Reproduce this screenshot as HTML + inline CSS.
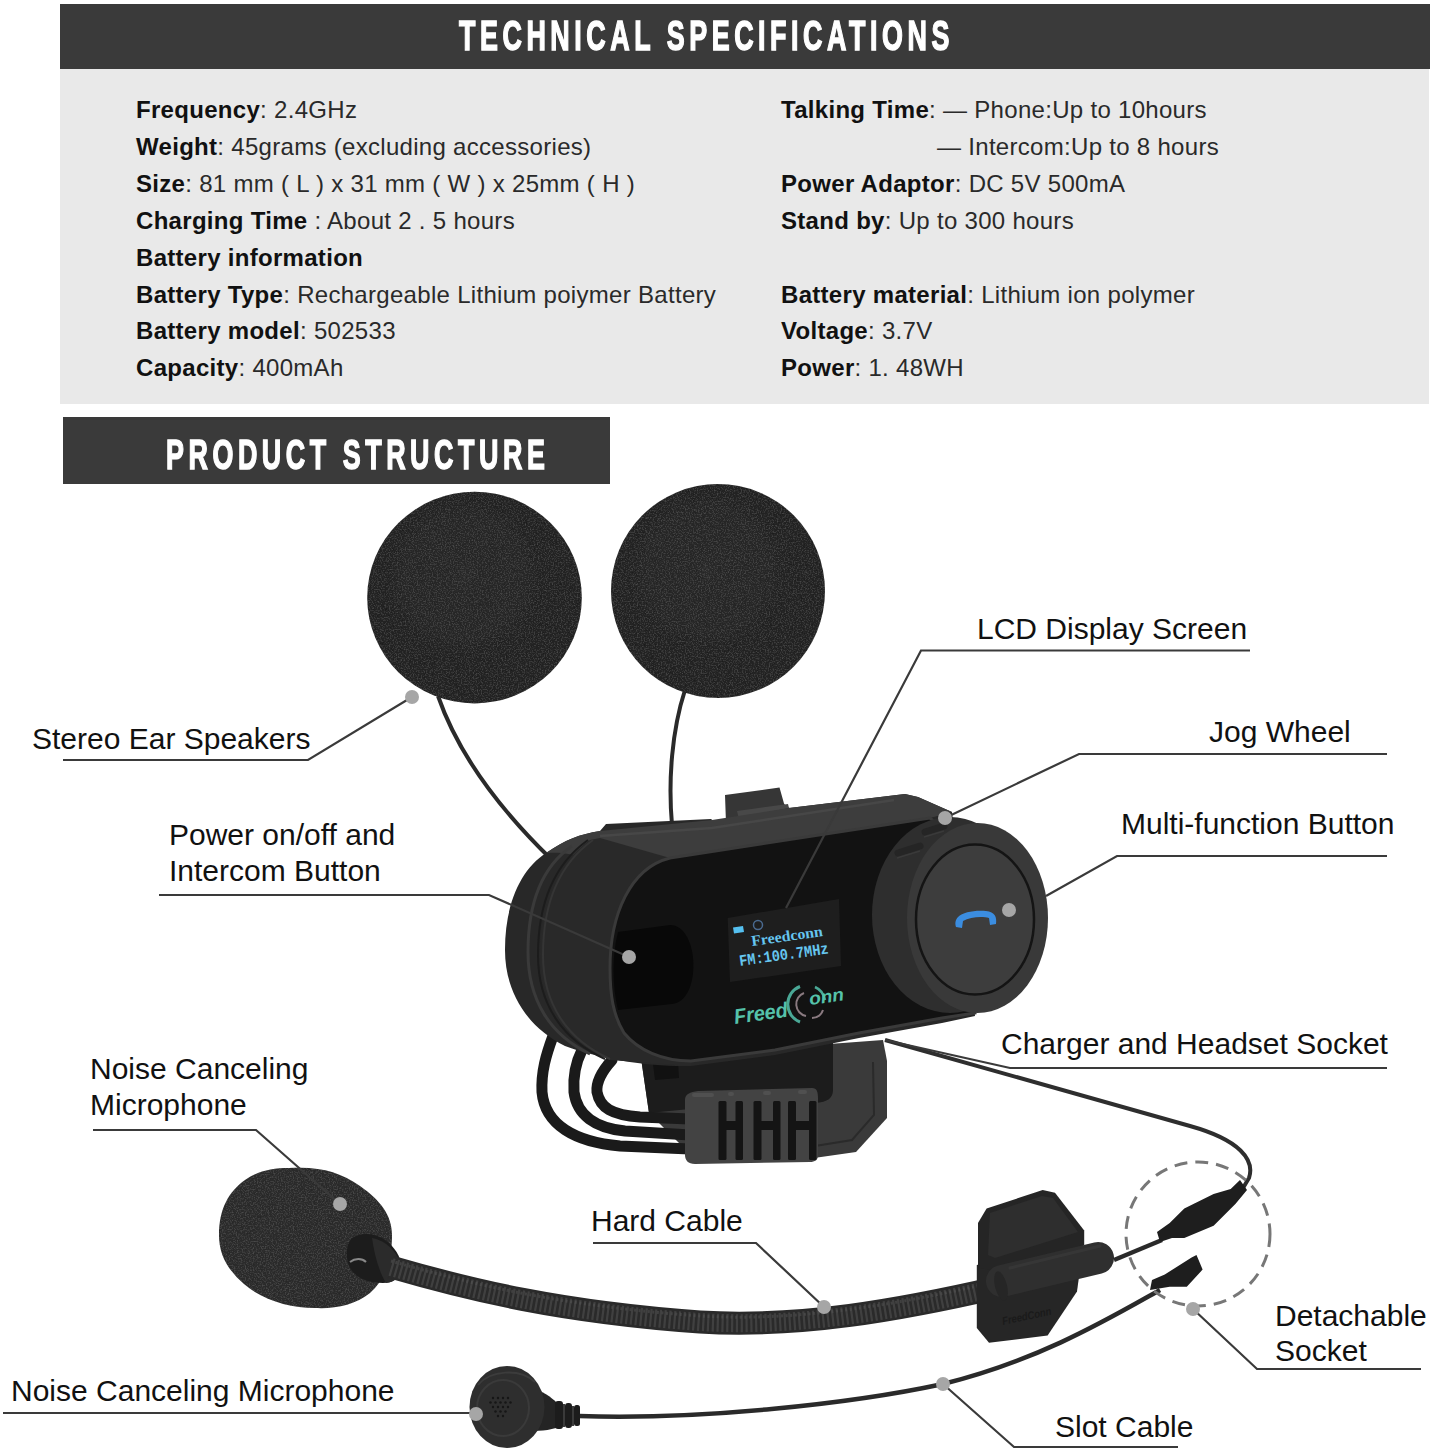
<!DOCTYPE html>
<html><head><meta charset="utf-8">
<style>
html,body{margin:0;padding:0;background:#fff;}
body{width:1434px;height:1452px;position:relative;overflow:hidden;font-family:"Liberation Sans",sans-serif;}
.bar{position:absolute;background:#3a3a3a;}
.gray{position:absolute;background:#e9e9e9;}
.hd{position:absolute;color:#fff;font-weight:bold;white-space:nowrap;transform-origin:0 0;line-height:1;transform:scaleX(0.64);letter-spacing:7.1px;-webkit-text-stroke:1.5px #fff;}
.sp{position:absolute;font-size:24px;line-height:30px;letter-spacing:0.3px;color:#2a2a2a;white-space:nowrap;}
.sp b{color:#111;}
.lb{position:absolute;font-size:30px;line-height:36px;color:#111;white-space:nowrap;}
svg{position:absolute;left:0;top:0;}
</style></head><body>
<div class="bar" style="left:60px;top:4px;width:1370px;height:65px"></div>
<div class="gray" style="left:60px;top:69px;width:1369px;height:335px"></div>
<div class="bar" style="left:63px;top:417px;width:547px;height:67px"></div>
<div class="hd" id="h1" style="left:459px;top:15px;font-size:42px;">TECHNICAL SPECIFICATIONS</div>
<div class="hd" id="h2" style="left:166px;top:434px;font-size:42px;">PRODUCT STRUCTURE</div>

<div id="specs">
<div class="sp" style="left:136px;top:95px"><b>Frequency</b>: 2.4GHz</div>
<div class="sp" style="left:136px;top:132px"><b>Weight</b>: 45grams (excluding accessories)</div>
<div class="sp" style="left:136px;top:169px"><b>Size</b>: 81 mm ( L ) x 31 mm ( W ) x 25mm ( H )</div>
<div class="sp" style="left:136px;top:206px"><b>Charging Time</b> : About 2 . 5 hours</div>
<div class="sp" style="left:136px;top:243px"><b>Battery information</b></div>
<div class="sp" style="left:136px;top:280px"><b>Battery Type</b>: Rechargeable Lithium poiymer Battery</div>
<div class="sp" style="left:136px;top:316px"><b>Battery model</b>: 502533</div>
<div class="sp" style="left:136px;top:353px"><b>Capacity</b>: 400mAh</div>
<div class="sp" style="left:781px;top:95px"><b>Talking Time</b>: — Phone:Up to 10hours</div>
<div class="sp" style="left:937px;top:132px">— Intercom:Up to 8 hours</div>
<div class="sp" style="left:781px;top:169px"><b>Power Adaptor</b>: DC 5V 500mA</div>
<div class="sp" style="left:781px;top:206px"><b>Stand by</b>: Up to 300 hours</div>
<div class="sp" style="left:781px;top:280px"><b>Battery material</b>: Lithium ion polymer</div>
<div class="sp" style="left:781px;top:316px"><b>Voltage</b>: 3.7V</div>
<div class="sp" style="left:781px;top:353px"><b>Power</b>: 1. 48WH</div>
</div>

<svg id="art" width="1434" height="1452" viewBox="0 0 1434 1452">
<defs>
<filter id="foam" x="0" y="0" width="100%" height="100%"><feTurbulence type="fractalNoise" baseFrequency="0.75" numOctaves="3" seed="3" result="n"/><feColorMatrix in="n" type="matrix" values="0 0 0 0 0.26  0 0 0 0 0.26  0 0 0 0 0.26  0 0 0 0.5 -0.22" result="g"/><feComposite in="g" in2="SourceGraphic" operator="in" result="t"/><feMerge><feMergeNode in="SourceGraphic"/><feMergeNode in="t"/></feMerge></filter>
<radialGradient id="spk" cx="0.45" cy="0.4" r="0.65"><stop offset="0" stop-color="#292929"/><stop offset="1" stop-color="#202020"/></radialGradient>
<linearGradient id="shell" x1="0" y1="0" x2="0" y2="1"><stop offset="0" stop-color="#3a3a3a"/><stop offset="0.5" stop-color="#2a2a2a"/><stop offset="1" stop-color="#262626"/></linearGradient>
</defs>
<!-- speaker cables -->
<path d="M438,696 C455,745 490,800 552,860" fill="none" stroke="#2a2a2a" stroke-width="4"/>
<path d="M685,690 C672,730 668,780 672,825" fill="none" stroke="#2a2a2a" stroke-width="4"/>
<!-- speakers -->
<ellipse cx="474.5" cy="597.6" rx="107.3" ry="105.8" fill="url(#spk)" filter="url(#foam)"/>
<ellipse cx="718" cy="591" rx="107" ry="107" fill="url(#spk)" filter="url(#foam)"/>
<!-- charger cable -->
<path d="M885,1040 L1190,1126 C1240,1140 1255,1160 1249,1178 L1243,1188" fill="none" stroke="#2e2e2e" stroke-width="4"/>
<!-- clip base -->
<polygon points="641,1058 883,1040 887,1061 887,1118 856,1152 814,1158 700,1160 686,1150 649,1113" fill="#3a3a3a"/>
<path d="M641,1058 L833,1042 L833,1090 C833,1098 828,1102 815,1103 L700,1108 L649,1113 Z" fill="#1c1c1c"/>
<polygon points="653,1064 678,1062 679,1078 655,1080" fill="#111"/>
<polyline points="873,1062 874,1115 852,1140 815,1146" fill="none" stroke="#2a2a2a" stroke-width="2"/>
<!-- cable loops -->
<g fill="none" stroke="#1a1a1a" stroke-width="11" stroke-linecap="round">
<path d="M553,1036 C546,1055 541,1072 542,1092 C545,1125 575,1142 620,1146 L690,1149"/>
<path d="M582,1050 C576,1062 573,1078 574,1092 C577,1115 595,1128 625,1131 L690,1135"/>
<path d="M612,1060 C603,1070 596,1082 597,1092 C600,1108 612,1115 640,1117 L690,1119"/>
</g>
<!-- plug -->
<path d="M685,1100 C685,1094 690,1092 698,1091 L812,1088 C817,1088 818,1092 818,1098 L818,1155 C818,1160 815,1162 810,1162 L695,1164 C688,1164 685,1160 685,1155 Z" fill="#434343"/>
<g fill="#141414">
<rect x="718.5" y="1101" width="8" height="59" rx="1.5"/><rect x="735.5" y="1101" width="7.5" height="59" rx="1.5"/><rect x="725.5" y="1121" width="10.5" height="9"/>
<rect x="753.5" y="1101" width="8" height="59" rx="1.5"/><rect x="773" y="1101" width="7.5" height="59" rx="1.5"/><rect x="760.5" y="1121" width="13.0" height="9"/>
<rect x="788" y="1101" width="8" height="59" rx="1.5"/><rect x="809" y="1101" width="7.5" height="59" rx="1.5"/><rect x="795" y="1121" width="14.5" height="9"/>
</g>
<g fill="#505050"><rect x="692" y="1093" width="22" height="4" rx="2"/><rect x="728" y="1092" width="6" height="4" rx="2"/><rect x="763" y="1091" width="8" height="4" rx="2"/><rect x="798" y="1090" width="9" height="4" rx="2"/></g>
<!-- top clip -->
<path d="M725,795 L779.5,787.5 L784,803.5 C786,807 790,808.5 798,810 L790,815 L737,822 L726,823.5 Z" fill="#363636"/><polygon points="737,811 788,804 790,812 739,819" fill="#484848"/>
<!-- device shell -->
<path d="M546,853 C565,840 580,834 600,831 L606,824 L711,819 L716,823 L789,808 L905,794 L918,797 L952,812 L975,1016 L942,1023 L859,1038 L775,1055 L691,1066 C650,1067 600,1059 565,1046 C525,1026 505,990 505,950 C505,905 520,870 546,853 Z" fill="#282828"/>
<!-- top band -->
<path d="M546,853 C565,840 580,834 600,831 L712,820 L789,808 L905,794 L918,797 L952,812 L930,818 L670,858 C640,864 610,866 585,858 C570,853 558,852 546,853 Z" fill="#3d3d3d"/>
<path d="M600,836 L712,828 L894,800" fill="none" stroke="#474747" stroke-width="2.5"/>
<!-- cap -->
<path d="M590,840 C555,865 540,905 540,955 C540,1005 565,1040 610,1060 L691,1066 L691,1061 C662,1061 638,1050 624,1033 C613,1015 610,995 610,968 C610,915 630,868 670,858 L600,838 Z" fill="#292929"/>
<!-- seam on left end -->
<path d="M572,846 C540,868 528,905 528,952 C528,1000 550,1035 590,1054" fill="none" stroke="#3a3a3a" stroke-width="3"/>
<path d="M588,840 C553,865 538,905 538,955 C538,1005 563,1040 605,1059" fill="none" stroke="#1c1c1c" stroke-width="2"/><path d="M593,840 C558,865 543,905 543,955 C543,1005 568,1040 610,1059" fill="none" stroke="#353535" stroke-width="2"/>
<!-- front face -->
<path d="M670,858 L930,818 L960,845 L975,1013 L942,1018 L859,1033 L775,1050 L691,1061 C662,1061 638,1050 624,1033 C613,1015 610,995 610,968 C610,915 630,868 670,858 Z" fill="#121212" stroke="#3a3a3a" stroke-width="3"/>
<!-- slot -->
<path d="M618,932 L670,925 C700,925 702,1002 672,1004 L618,1010 C612,985 612,955 618,932 Z" fill="#080808"/>
<!-- screen -->
<polygon points="727.7,918 839,899 841,966 730,982" fill="#1e1e1e"/>
<g fill="#66c6f0" font-family="Liberation Serif" font-weight="bold">
<text x="752" y="946" font-size="15" transform="rotate(-8 752 946)" textLength="72" lengthAdjust="spacingAndGlyphs">Freedconn</text>
<text x="740" y="966" font-size="16" transform="rotate(-8 740 966)" textLength="90" lengthAdjust="spacingAndGlyphs" font-family="Liberation Mono">FM:100.7MHz</text>
</g>
<polygon points="733,927.5 743,926 744,932 734,933.5" fill="#55c0f0"/>
<circle cx="758" cy="925" r="4.5" fill="none" stroke="#4a6a90" stroke-width="1.5"/>
<!-- logo -->
<text x="735" y="1024" font-size="21" font-weight="bold" font-style="italic" fill="#55c2aa" font-family="Liberation Sans" transform="rotate(-8 735 1024)" textLength="54" lengthAdjust="spacingAndGlyphs">Freed</text>
<path d="M800,986.5 A19,19 0 0,0 800,1022" fill="none" stroke="#4aa896" stroke-width="3"/>
<path d="M815,987 A17,18 0 0,1 825,1000" fill="none" stroke="#4aa896" stroke-width="2.5"/>
<path d="M804,993 A12,12 0 0,0 806,1016" fill="none" stroke="#8a7a80" stroke-width="2"/>
<path d="M812,1018 A12,12 0 0,0 823,1010" fill="none" stroke="#8a7a80" stroke-width="2"/>
<text x="810" y="1005" font-size="18" font-weight="bold" font-style="italic" fill="#55c2aa" font-family="Liberation Sans" transform="rotate(-8 810 1005)" textLength="35" lengthAdjust="spacingAndGlyphs">onn</text>
<!-- jog wheel -->
<ellipse cx="950" cy="915" rx="78" ry="98" fill="#2e2e2e"/>
<g fill="none" stroke="#252525" stroke-width="7" stroke-linecap="round"><path d="M898,853 L920,846"/><path d="M925,832 L944,826"/></g>
<g fill="none" stroke="#3a3a3a" stroke-width="1.5"><path d="M897,858 L920,851"/><path d="M924,837 L944,831"/></g>
<ellipse cx="977.5" cy="918" rx="70.5" ry="95" fill="#393939"/>
<ellipse cx="975" cy="919.5" rx="59" ry="75" fill="#3d3d3d" stroke="#141414" stroke-width="2.5"/>
<path d="M956,927 L962,928 L963,921 C970,917 982,916 989,918 L990,925 L996,924 C997,917 995,912 986,911 C975,910 963,912 958,917 C955,920 955,924 956,927 Z" fill="#3b8de0"/>
<!-- slot cable -->
<path d="M579,1416 C700,1420 850,1404 943,1384 C1040,1360 1110,1318 1160,1290" fill="none" stroke="#2a2a2a" stroke-width="4.5"/>
<!-- mic foam -->
<path d="M289,1168 C320,1166 340,1172 360,1186 C380,1200 392,1215 392,1235 C392,1260 385,1280 370,1293 C355,1305 335,1309 315,1308 C290,1308 262,1300 244,1284 C228,1270 219,1255 219,1235 C219,1210 228,1192 245,1180 C258,1171 272,1168 289,1168 Z" fill="#2a2a2a" filter="url(#foam)"/>
<!-- mic connector -->
<path d="M352,1238 C362,1232 375,1233 385,1240 C395,1247 402,1258 401,1268 C400,1278 393,1283 383,1283 C370,1283 356,1279 350,1268 C345,1258 346,1244 352,1238 Z" fill="#1c1c1c"/><path d="M372,1238 C385,1240 398,1252 401,1266 C401,1276 396,1282 386,1283 C378,1270 374,1252 372,1238 Z" fill="#2b2b2b"/><path d="M350,1262 C355,1258 362,1258 366,1262" stroke="#888" stroke-width="2" fill="none"/>
<!-- gooseneck -->
<path d="M391,1267 C470,1290 560,1312 700,1322 C800,1328 900,1310 1000,1287" fill="none" stroke="#2a2a2a" stroke-width="23"/>
<path d="M391,1267 C470,1290 560,1312 700,1322 C800,1328 900,1310 1000,1287" fill="none" stroke="#505050" stroke-width="18" stroke-dasharray="2.2 2.6" opacity="0.6"/>
<path d="M391,1261 C470,1284 560,1306 700,1316 C800,1322 900,1304 1000,1281" fill="none" stroke="#555" stroke-width="3" stroke-dasharray="2 2.6" opacity="0.5"/>

<!-- boom clip -->
<polygon points="976.8,1265 1084,1240 1077,1291.6 1047.6,1335.5 989,1342.8 976.8,1328" fill="#262626"/>
<polygon points="978,1223 986.6,1208.6 1042.7,1190 1055,1192.7 1084.2,1230.5 1084.2,1245 990,1270 978,1268" fill="#252525"/>
<polygon points="990,1213 1042,1196 1053,1198 1078,1232 995,1258 988,1255" fill="#2e2e2e"/>
<text x="1003" y="1325" font-size="11" font-weight="bold" font-style="italic" fill="#1a1a1a" font-family="Liberation Sans" transform="rotate(-12 1003 1325)" textLength="50" lengthAdjust="spacingAndGlyphs">FreedConn</text>
<path d="M1002,1281 L1098,1258" stroke="#2f2f2f" stroke-width="32" stroke-linecap="round"/>
<path d="M1010,1268 L1100,1246" stroke="#3a3a3a" stroke-width="3" stroke-linecap="round" opacity="0.7"/>
<ellipse cx="1001" cy="1286" rx="6" ry="15" fill="#262626" transform="rotate(-14 1001 1286)"/>
<!-- detachable connectors -->
<path d="M1114,1260 L1162,1240" stroke="#2a2a2a" stroke-width="4.5"/>
<polygon points="1160,1242 1172,1237.9 1184.3,1237.9 1213.6,1225.7 1235.6,1203.7 1247,1190 1240,1180 1230.7,1189 1213.6,1194 1184.3,1208.6 1169.7,1223 1157,1232" fill="#1e1e1e"/>
<polygon points="1150,1290 1169.7,1286.7 1186.8,1286.7 1202.6,1269.6 1196.5,1255 1191.6,1257.4 1164.8,1274.5 1152,1280" fill="#1e1e1e"/>
<!-- small mic -->
<path d="M530,1388 C542,1390 552,1398 556,1402 L556,1428 C548,1430 540,1432 530,1430 Z" fill="#242424"/>
<g fill="#1c1c1c"><rect x="555" y="1401" width="8" height="28" rx="3"/><rect x="565" y="1403" width="7" height="25" rx="3"/><rect x="574" y="1405" width="6" height="21" rx="2.5"/></g>
<g fill="#3a3a3a"><rect x="563" y="1404" width="2" height="23"/><rect x="572" y="1406" width="2" height="20"/></g>
<ellipse cx="507" cy="1407" rx="37.5" ry="41" fill="#2e2e2e"/>
<path d="M478,1385 C490,1370 520,1368 535,1382" fill="none" stroke="#3c3c3c" stroke-width="2"/>
<ellipse cx="503" cy="1408" rx="26" ry="28" fill="none" stroke="#3a3a3a" stroke-width="2"/>
<g fill="#161616"><circle cx="493" cy="1398" r="1.2"/><circle cx="498" cy="1398" r="1.2"/><circle cx="503" cy="1398" r="1.2"/><circle cx="508" cy="1398" r="1.2"/><circle cx="490.5" cy="1402.5" r="1.2"/><circle cx="495.5" cy="1402.5" r="1.2"/><circle cx="500.5" cy="1402.5" r="1.2"/><circle cx="505.5" cy="1402.5" r="1.2"/><circle cx="510.5" cy="1402.5" r="1.2"/><circle cx="493" cy="1407" r="1.2"/><circle cx="498" cy="1407" r="1.2"/><circle cx="503" cy="1407" r="1.2"/><circle cx="508" cy="1407" r="1.2"/><circle cx="495.5" cy="1411.5" r="1.2"/><circle cx="500.5" cy="1411.5" r="1.2"/><circle cx="505.5" cy="1411.5" r="1.2"/><circle cx="498" cy="1416" r="1.2"/><circle cx="503" cy="1416" r="1.2"/></g>
<!-- dashed circle -->
<circle cx="1198" cy="1234" r="72" fill="none" stroke="#777" stroke-width="3" stroke-dasharray="13 8"/>
</svg>

<svg id="lines" width="1434" height="1452" viewBox="0 0 1434 1452">
<g fill="none" stroke="#3a3a3a" stroke-width="2.2">
<polyline points="63,760 308,760 407,700"/>
<polyline points="159,895 489,895 629,957"/>
<polyline points="1250,650.5 921,650.5 786,908"/>
<polyline points="1387,754 1079,754 945,818"/>
<polyline points="1387,856 1117,856 1046,896"/>
<polyline points="1387,1068 1010,1068 885,1040"/>
<polyline points="93,1130 256,1130 340,1204"/>
<polyline points="593,1243 756,1243 824,1307"/>
<polyline points="1421,1369 1257,1369 1193,1309"/>
<polyline points="3,1413 476,1413"/>
<polyline points="1178,1447 1014,1447 943,1384"/>
</g>
<g fill="#a6a6a6">
<circle cx="412" cy="697" r="7"/>
<circle cx="629" cy="957" r="7"/>
<circle cx="945" cy="818" r="7"/>
<circle cx="1009" cy="910" r="7"/>
<circle cx="340" cy="1204" r="7"/>
<circle cx="824" cy="1307" r="7"/>
<circle cx="1193" cy="1309" r="7"/>
<circle cx="476" cy="1414" r="7"/>
<circle cx="943" cy="1384" r="7"/>
</g>
</svg>

<div id="labels">
<div class="lb" style="left:32px;top:720.5px">Stereo Ear Speakers</div>
<div class="lb" style="left:169px;top:816.5px">Power on/off and</div>
<div class="lb" style="left:169px;top:852.5px">Intercom Button</div>
<div class="lb" style="left:977px;top:610.5px">LCD Display Screen</div>
<div class="lb" style="left:1209px;top:713.5px">Jog Wheel</div>
<div class="lb" style="left:1121px;top:805.5px">Multi-function Button</div>
<div class="lb" style="left:1001px;top:1025.5px">Charger and Headset Socket</div>
<div class="lb" style="left:90px;top:1050.5px">Noise Canceling</div>
<div class="lb" style="left:90px;top:1086.5px">Microphone</div>
<div class="lb" style="left:591px;top:1202.5px">Hard Cable</div>
<div class="lb" style="left:1275px;top:1297.5px">Detachable</div>
<div class="lb" style="left:1275px;top:1332.5px">Socket</div>
<div class="lb" style="left:11px;top:1372.5px">Noise Canceling Microphone</div>
<div class="lb" style="left:1055px;top:1408.5px">Slot Cable</div>
</div>
</body></html>
